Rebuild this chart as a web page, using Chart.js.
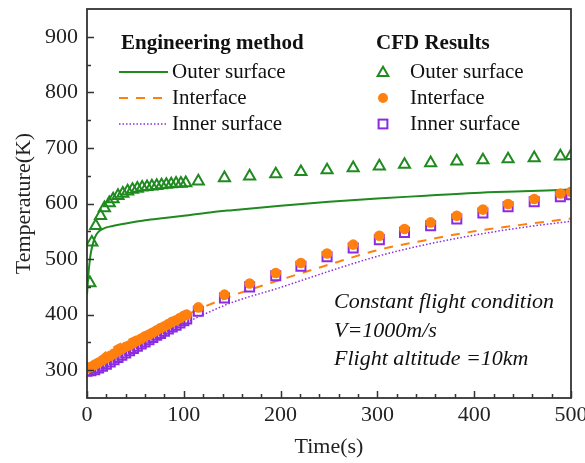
<!DOCTYPE html>
<html><head><meta charset="utf-8">
<script src="https://cdn.jsdelivr.net/npm/chart.js@4.4.0/dist/chart.umd.min.js"></script>
<style>html,body{margin:0;padding:0;background:#fff;overflow:hidden}</style>
</head><body>
<canvas id="c" width="585" height="463" style="display:block;width:585px;height:463px"></canvas>
<script>
// ---- tick labels ----
const xTicks = [0, 100, 200, 300, 400, 500];
const yTicks = [300, 400, 500, 600, 700, 800, 900];

// ---- Engineering method (lines) ----
const outerLineT = [0, 1, 2, 3, 4, 5, 6, 8, 10, 13, 16, 20, 25, 30, 40, 50, 60, 80, 100, 127, 150, 200, 250, 300, 350, 400, 450, 500];
const outerLine  = [436, 462, 483, 499, 511, 520, 527, 538, 545, 551, 554, 557, 559, 561, 564, 567, 570, 574, 578, 584, 588, 596, 603, 609, 614, 619, 622, 625];

const interfaceLineT = [0, 10, 20, 40, 60, 80, 100, 117, 150, 195, 250, 300, 350, 400, 450, 500];
const interfaceLine  = [302, 318, 333, 352, 368, 383, 397, 411, 434, 460, 490, 516, 534, 550, 562, 573];

const innerLineT = [0, 10, 20, 40, 60, 80, 100, 124, 150, 200, 250, 300, 350, 400, 450, 500];
const innerLine  = [297, 300, 306, 325, 344, 362, 383, 403, 422, 449, 478, 505, 526, 543, 557, 568];

// ---- CFD results (markers) ----
const outerCfdT = [0, 3, 5, 9, 14, 18, 23, 27, 32, 37, 42, 47, 52, 57, 62, 67, 72, 77, 82, 87, 92, 97, 102, 115, 142, 168, 195, 221, 248, 275, 302, 328, 355, 382, 409, 435, 462, 489, 500];
const outerCfd  = [302, 457, 530, 560, 578, 592, 601, 608, 614, 618, 622, 625, 627, 629, 630, 631, 632, 633, 634, 635, 636, 636, 637, 640, 646, 649, 653, 657, 660, 664, 667, 670, 673, 676, 678, 680, 682, 685, 686];

const cfdT = [0, 4, 8, 12, 16, 20, 24, 28, 32, 36, 40, 44, 48, 52, 56, 60, 64, 68, 72, 76, 80, 84, 88, 92, 96, 100, 103, 115, 142, 168, 195, 221, 248, 275, 302, 328, 355, 382, 409, 435, 462, 489, 500];
const interfaceCfd = [303, 306, 310, 314, 318, 322, 326, 330, 334, 338, 342, 345, 349, 353, 357, 361, 364, 368, 372, 376, 379, 383, 387, 390, 394, 398, 400, 413, 436, 456, 475, 493, 510, 526, 542, 554, 566, 578, 589, 599, 608, 618, 621];
const innerCfd     = [298, 299, 301, 304, 307, 311, 315, 319, 323, 327, 331, 335, 339, 343, 347, 351, 355, 359, 363, 366, 370, 374, 378, 381, 385, 389, 392, 406, 430, 450, 470, 487, 504, 520, 535, 548, 560, 572, 583, 594, 603, 612, 616];

const GREEN = '#1f8a1f', ORANGE = '#ff800e', PURPLE = '#8a2be2';
const SERIF = '"Liberation Serif", "Times New Roman", serif';

function pts(xs, ys) { return xs.map((x, i) => ({ x: x, y: ys[i] })); }

function drawMarker(ctx, style, x, y) {
  ctx.save();
  ctx.lineWidth = 2;
  if (style === 'triangle') {
    const r = 6.2;
    ctx.strokeStyle = GREEN;
    ctx.beginPath();
    ctx.moveTo(x, y - r);
    ctx.lineTo(x + r * Math.sin(2 * Math.PI / 3), y - r * Math.cos(2 * Math.PI / 3));
    ctx.lineTo(x + r * Math.sin(4 * Math.PI / 3), y - r * Math.cos(4 * Math.PI / 3));
    ctx.closePath();
    ctx.stroke();
  } else if (style === 'circle') {
    ctx.fillStyle = ORANGE;
    ctx.beginPath(); ctx.arc(x, y, 5, 0, Math.PI * 2); ctx.fill();
  } else {
    const s = 4.4;
    ctx.strokeStyle = PURPLE;
    ctx.strokeRect(x - s, y - s, 2 * s, 2 * s);
  }
  ctx.restore();
}

const decorPlugin = {
  id: 'decor',
  afterDatasetsDraw(chart) {
    const ctx = chart.ctx, a = chart.chartArea;
    const xs = chart.scales.x, ys = chart.scales.y;
    ctx.save();
    // inward ticks
    ctx.strokeStyle = '#333'; ctx.lineWidth = 1.5;
    ctx.beginPath();
    for (let v = 0; v <= 500; v += 20) {
      const px = Math.round(xs.getPixelForValue(v)) + 0.5;
      const len = (v % 100 === 0) ? 7 : 4;
      ctx.moveTo(px, a.bottom); ctx.lineTo(px, a.bottom - len);
    }
    for (let v = 300; v <= 900; v += 50) {
      const py = Math.round(ys.getPixelForValue(v)) + 0.5;
      const len = (v % 100 === 0) ? 7 : 4;
      ctx.moveTo(a.left, py); ctx.lineTo(a.left + len, py);
    }
    ctx.stroke();
    // frame
    ctx.lineWidth = 1.8; ctx.strokeStyle = '#333';
    ctx.strokeRect(a.left, a.top, a.right - a.left, a.bottom - a.top);

    // legend
    ctx.fillStyle = '#111';
    ctx.textBaseline = 'middle';
    ctx.textAlign = 'left';
    ctx.font = 'bold 21px ' + SERIF;
    ctx.fillText('Engineering method', 121, 44);
    ctx.fillText('CFD Results', 376, 44);
    ctx.font = '21px ' + SERIF;
    const rows = [72, 98, 124];
    const names = ['Outer surface', 'Interface', 'Inner surface'];
    rows.forEach((y, i) => {
      ctx.fillStyle = '#111';
      ctx.fillText(names[i], 172, y);
      ctx.fillText(names[i], 410, y);
    });
    ctx.lineWidth = 2;
    ctx.strokeStyle = GREEN; ctx.setLineDash([]);
    ctx.beginPath(); ctx.moveTo(119, 72); ctx.lineTo(168, 72); ctx.stroke();
    ctx.strokeStyle = ORANGE; ctx.setLineDash([9, 8]);
    ctx.beginPath(); ctx.moveTo(119, 98); ctx.lineTo(168, 98); ctx.stroke();
    ctx.strokeStyle = PURPLE; ctx.lineWidth = 1.5; ctx.setLineDash([1.5, 2]);
    ctx.beginPath(); ctx.moveTo(119, 124); ctx.lineTo(168, 124); ctx.stroke();
    ctx.setLineDash([]);
    drawMarker(ctx, 'triangle', 383, 73);
    drawMarker(ctx, 'circle', 383, 98);
    drawMarker(ctx, 'rect', 383, 124);

    // annotation
    ctx.fillStyle = '#111';
    ctx.textBaseline = 'alphabetic';
    ctx.font = 'italic 22px ' + SERIF;
    ctx.fillText('Constant flight condition', 334, 308);
    ctx.fillText('V=1000m/s', 334, 337);
    ctx.fillText('Flight altitude =10km', 334, 365);
    ctx.restore();
  }
};

new Chart(document.getElementById('c'), {
  type: 'scatter',
  data: {
    datasets: [
      { label: 'CFD Interface', data: pts(cfdT, interfaceCfd), showLine: false,
        pointStyle: 'circle', pointRadius: 5.3, pointBackgroundColor: ORANGE, pointBorderColor: ORANGE, pointBorderWidth: 0 },
      { label: 'CFD Inner surface', data: pts(cfdT, innerCfd), showLine: false,
        pointStyle: 'rect', pointRadius: 6.4, pointBackgroundColor: 'rgba(0,0,0,0)', pointBorderColor: PURPLE, pointBorderWidth: 2 },
      { label: 'CFD Outer surface', data: pts(outerCfdT, outerCfd), showLine: false,
        pointStyle: 'triangle', pointRadius: 6.4, pointBackgroundColor: 'rgba(0,0,0,0)', pointBorderColor: GREEN, pointBorderWidth: 2 },
      { label: 'Interface', data: pts(interfaceLineT, interfaceLine), showLine: true, pointRadius: 0,
        borderColor: ORANGE, borderWidth: 2, borderDash: [9, 8], cubicInterpolationMode: 'monotone' },
      { label: 'Inner surface', data: pts(innerLineT, innerLine), showLine: true, pointRadius: 0,
        borderColor: PURPLE, borderWidth: 1.5, borderDash: [1.5, 2], cubicInterpolationMode: 'monotone' },
      { label: 'Outer surface', data: pts(outerLineT, outerLine), showLine: true, pointRadius: 0,
        borderColor: GREEN, borderWidth: 2, cubicInterpolationMode: 'monotone' }
    ]
  },
  options: {
    responsive: false,
    animation: false,
    devicePixelRatio: 1,
    layout: { padding: { top: 9, right: 14, left: 0, bottom: 0 } },
    plugins: { legend: { display: false }, tooltip: { enabled: false } },
    scales: {
      x: {
        type: 'linear', min: 0, max: 500,
        afterBuildTicks: s => { s.ticks = xTicks.map(v => ({ value: v })); },
        afterFit: s => { s.height = 65; s.paddingLeft = 0; s.paddingRight = 0; },
        grid: { display: false, drawTicks: false },
        border: { display: false },
        ticks: { color: '#222', font: { family: SERIF, size: 22 }, padding: 4, maxRotation: 0, autoSkip: false },
        title: { display: true, text: 'Time(s)', color: '#222', font: { family: SERIF, size: 22 }, padding: { top: 0, bottom: 3 } }
      },
      y: {
        type: 'linear', min: 250, max: 950,
        afterBuildTicks: s => { s.ticks = yTicks.map(v => ({ value: v })); },
        afterFit: s => { s.width = 87; s.paddingTop = 0; s.paddingBottom = 0; },
        grid: { display: false, drawTicks: false },
        border: { display: false },
        ticks: { color: '#222', font: { family: SERIF, size: 22 }, padding: 9, autoSkip: false },
        title: { display: true, text: 'Temperature(K)', color: '#222', font: { family: SERIF, size: 22 }, padding: { top: 11, bottom: 0 } }
      }
    }
  },
  plugins: [decorPlugin]
});
</script>
</body></html>
